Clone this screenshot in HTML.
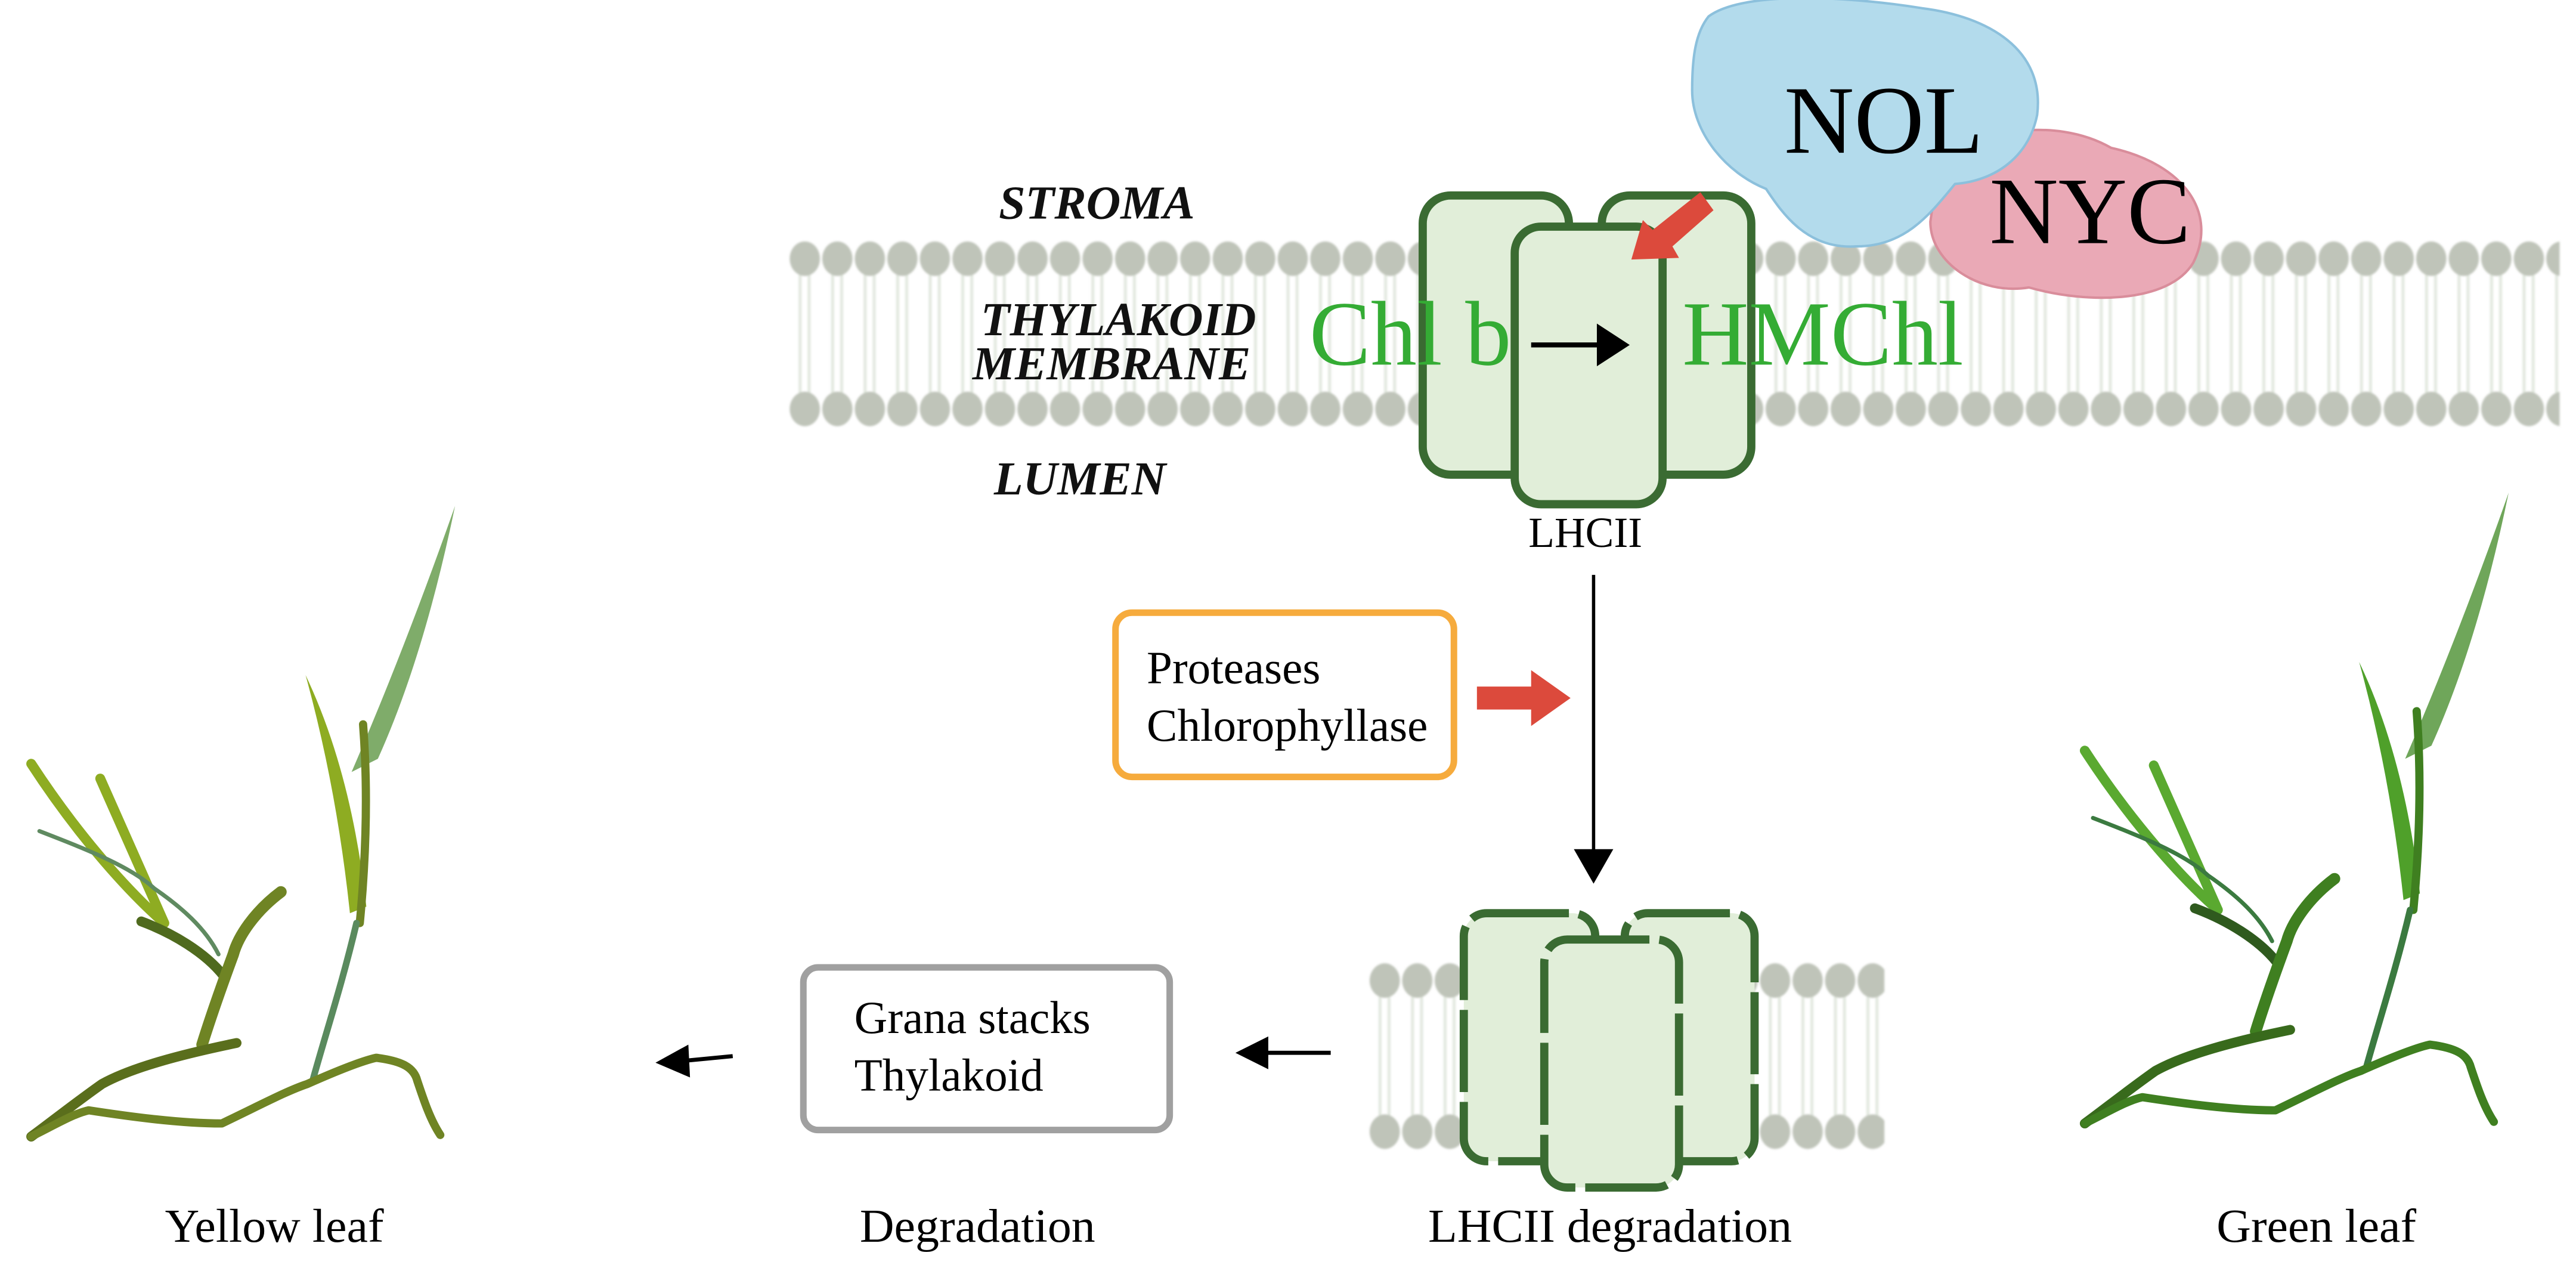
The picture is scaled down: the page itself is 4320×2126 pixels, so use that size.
<!DOCTYPE html>
<html><head><meta charset="utf-8"><style>
html,body{margin:0;padding:0;background:#fff;}
svg{display:block;}
text{font-family:"Liberation Serif",serif;}
</style></head><body>
<svg width="4320" height="2126" viewBox="0 0 1568 772" preserveAspectRatio="none" xmlns="http://www.w3.org/2000/svg">
<defs>
<filter id="bl" x="-5%" y="-5%" width="110%" height="110%"><feGaussianBlur stdDeviation="0.7"/></filter>
<pattern id="lip" x="480" y="0" width="19.8" height="772" patternUnits="userSpaceOnUse">
<line x1="7" y1="160" x2="7" y2="246" stroke="#e2e8df" stroke-width="1.8"/>
<line x1="12.5" y1="160" x2="12.5" y2="246" stroke="#e2e8df" stroke-width="1.8"/>
<ellipse cx="9.9" cy="157.5" rx="9.2" ry="10.5" fill="#bfc4b9"/>
<ellipse cx="9.9" cy="249" rx="9.2" ry="10.5" fill="#bfc4b9"/>
</pattern>
<pattern id="lip2" x="833" y="0" width="19.8" height="772" patternUnits="userSpaceOnUse">
<line x1="7" y1="600" x2="7" y2="690" stroke="#e2e8df" stroke-width="1.8"/>
<line x1="12.5" y1="600" x2="12.5" y2="690" stroke="#e2e8df" stroke-width="1.8"/>
<ellipse cx="9.9" cy="597" rx="9.2" ry="10.5" fill="#bfc4b9"/>
<ellipse cx="9.9" cy="689" rx="9.2" ry="10.5" fill="#bfc4b9"/>
</pattern>
</defs>

<rect x="480" y="145" width="1078" height="116" fill="url(#lip)" filter="url(#bl)"/>
<rect x="833" y="585" width="314" height="116" fill="url(#lip2)" filter="url(#bl)"/>

<g font-size="29" font-style="italic" font-weight="bold" fill="#111">
<text x="608" y="133">STROMA</text>
<text x="597" y="204">THYLAKOID</text>
<text x="592" y="231">MEMBRANE</text>
<text x="605" y="301">LUMEN</text>
</g>

<!-- LHCII -->
<rect x="866" y="119" width="89" height="170" rx="17" fill="#e1eed9" stroke="#3a6b32" stroke-width="5"/>
<rect x="975" y="119" width="91" height="170" rx="17" fill="#e1eed9" stroke="#3a6b32" stroke-width="5"/>
<rect x="922" y="138" width="90" height="169" rx="16" fill="#e1eed9" stroke="#3a6b32" stroke-width="5"/>
<text x="797" y="222" font-size="56" fill="#34ac34">Chl b</text>
<text x="1024" y="222" font-size="56" fill="#34ac34">HMChl</text>
<line x1="932" y1="210" x2="975" y2="210" stroke="#000" stroke-width="3"/>
<path d="M972,197 L992,210 L972,223Z" fill="#000"/>
<path d="M1035,117 L1043,128 L1018,150 L1022,157 L993,158 L1000,134 L1006,140Z" fill="#dc4a3c"/>
<text x="965" y="333" font-size="26" fill="#000" text-anchor="middle">LHCII</text>

<!-- NOL / NYC blobs -->
<path d="M1180,100 C1200,80 1250,70 1285,90 C1330,100 1350,130 1335,160 C1320,185 1270,185 1235,175 C1205,180 1175,160 1175,135Z" fill="#eaa9b6" stroke="#d98d9b" stroke-width="1.5"/>
<path d="M1040,10 C1060,-5 1120,-3 1170,5 C1210,10 1245,30 1240,70 C1235,95 1215,110 1190,112 C1175,130 1160,150 1130,150 C1100,152 1085,130 1075,115 C1050,105 1030,80 1030,55 C1030,35 1032,20 1040,10Z" fill="#b3dbec" stroke="#8cc0dc" stroke-width="1.5"/>
<text x="1086" y="93" font-size="59" fill="#000">NOL</text>
<text x="1211" y="148" font-size="58" fill="#000">NYC</text>

<line x1="970" y1="350" x2="970" y2="520" stroke="#000" stroke-width="2"/>
<path d="M958,517 L970,538 L982,517Z" fill="#000"/>

<rect x="679" y="373" width="206" height="100" rx="10" fill="#fff" stroke="#f6ab3d" stroke-width="4"/>
<text x="698" y="416" font-size="28" fill="#000">Proteases</text>
<text x="698" y="451" font-size="28" fill="#000">Chlorophyllase</text>
<path d="M899,418 L932,418 L932,408 L956,425 L932,442 L932,432 L899,432Z" fill="#dc4a3c"/>

<!-- degraded LHCII dashed -->
<g fill="#e1eed9" stroke="#3a6b32" stroke-width="5" stroke-dasharray="50,6,45,6">
<rect x="891" y="556" width="80" height="151" rx="14"/>
<rect x="989" y="556" width="79" height="151" rx="14"/>
<rect x="940" y="572" width="82" height="151" rx="14"/>
</g>

<line x1="810" y1="641" x2="768" y2="641" stroke="#000" stroke-width="2.5"/>
<path d="M772,631 L752,641 L772,651Z" fill="#000"/>
<rect x="489" y="589" width="223" height="99" rx="9" fill="#fff" stroke="#a0a0a0" stroke-width="4"/>
<text x="520" y="629" font-size="28" fill="#000">Grana stacks</text>
<text x="520" y="664" font-size="28" fill="#000">Thylakoid</text>
<line x1="446" y1="643" x2="415" y2="646" stroke="#000" stroke-width="2.5"/>
<path d="M419,636 L399,647 L420,656Z" fill="#000"/>

<g font-size="29" fill="#000" text-anchor="middle">
<text x="167" y="756">Yellow leaf</text>
<text x="595" y="756">Degradation</text>
<text x="980" y="756">LHCII degradation</text>
<text x="1410" y="756">Green leaf</text>
</g>

<!-- yellow plant -->
<g stroke-linecap="round" stroke-linejoin="round">
<path d="M214,470 Q246,396 277,308 Q258,400 230,462 Z" fill="#7fac6a"/>
<path d="M186,411 Q205,480 213,556 L223,552 Q214,470 186,411Z" fill="#8eac22"/>
<g fill="none">
<path d="M221,441 C224,480 223,520 219,562" stroke="#6f8424" stroke-width="5"/>
<path d="M217,562 C208,600 198,630 190,659" stroke="#5a8a5e" stroke-width="4"/>
<path d="M19,465 C45,505 75,540 100,562" stroke="#8eac22" stroke-width="6"/>
<path d="M61,474 C75,505 88,535 100,562" stroke="#8eac22" stroke-width="6"/>
<path d="M24,506 C55,518 80,528 94,541 C110,552 125,565 133,581" stroke="#5f8a60" stroke-width="2.5"/>
<path d="M86,561 C105,568 125,580 136,594" stroke="#4f6a1e" stroke-width="6"/>
<path d="M171,543 C155,555 145,570 142,581 C135,600 128,620 123,636" stroke="#6f8424" stroke-width="7"/>
<path d="M144,635 C110,642 80,650 62,660 C45,672 30,684 19,692" stroke="#5a6e1c" stroke-width="6"/>
<path d="M19,692 C35,684 45,678 54,676 C80,680 110,684 135,684 C160,672 175,664 187,660 C205,652 220,646 229,644 C245,646 252,650 254,658 C258,670 262,682 268,691" stroke="#6f8424" stroke-width="5"/>
</g>
</g>
<!-- green plant -->
<g stroke-linecap="round" stroke-linejoin="round" transform="translate(1250,-8)">
<path d="M214,470 Q246,396 277,308 Q258,400 230,462 Z" fill="#6fa65a"/>
<path d="M186,411 Q205,480 213,556 L223,552 Q214,470 186,411Z" fill="#4fa02a"/>
<g fill="none">
<path d="M221,441 C224,480 223,520 219,562" stroke="#3f7f20" stroke-width="5"/>
<path d="M217,562 C208,600 198,630 190,659" stroke="#3b7a40" stroke-width="4"/>
<path d="M19,465 C45,505 75,540 100,562" stroke="#5aa930" stroke-width="6"/>
<path d="M61,474 C75,505 88,535 100,562" stroke="#5aa930" stroke-width="6"/>
<path d="M24,506 C55,518 80,528 94,541 C110,552 125,565 133,581" stroke="#3b7a40" stroke-width="2.5"/>
<path d="M86,561 C105,568 125,580 136,594" stroke="#2f5a1e" stroke-width="6"/>
<path d="M171,543 C155,555 145,570 142,581 C135,600 128,620 123,636" stroke="#3f7f20" stroke-width="7"/>
<path d="M144,635 C110,642 80,650 62,660 C45,672 30,684 19,692" stroke="#386a1c" stroke-width="6"/>
<path d="M19,692 C35,684 45,678 54,676 C80,680 110,684 135,684 C160,672 175,664 187,660 C205,652 220,646 229,644 C245,646 252,650 254,658 C258,670 262,682 268,691" stroke="#3f7f20" stroke-width="5"/>
</g>
</g>
</svg>
</body></html>
